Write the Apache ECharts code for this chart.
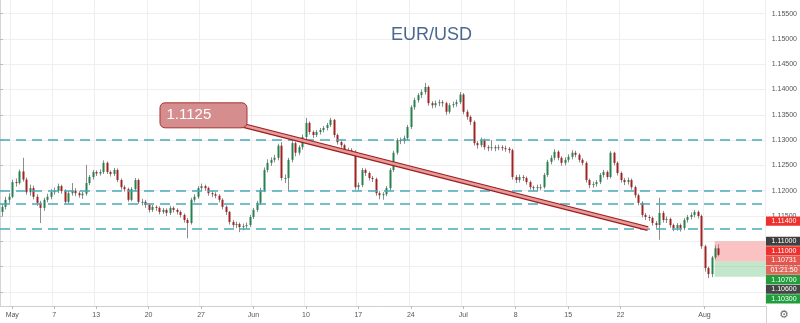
<!DOCTYPE html>
<html>
<head>
<meta charset="utf-8">
<script src="https://cdn.jsdelivr.net/npm/echarts@6/dist/echarts.min.js"></script>
<style>
  html, body { margin: 0; padding: 0; background: #ffffff; }
  #chart { width: 800px; height: 323px; }
</style>
</head>
<body>
<div id="chart"></div>
<script>
// EUR/USD, 8-hour bars, 30 Apr - 2 Aug 2019
const tradingDays = [
  '04-30',
  '05-01','05-02','05-03','05-06','05-07','05-08','05-09','05-10','05-13','05-14','05-15','05-16','05-17',
  '05-20','05-21','05-22','05-23','05-24','05-27','05-28','05-29','05-30','05-31',
  '06-03','06-04','06-05','06-06','06-07','06-10','06-11','06-12','06-13','06-14',
  '06-17','06-18','06-19','06-20','06-21','06-24','06-25','06-26','06-27','06-28',
  '07-01','07-02','07-03','07-04','07-05','07-08','07-09','07-10','07-11','07-12',
  '07-15','07-16','07-17','07-18','07-19','07-22','07-23','07-24','07-25','07-26',
  '07-29','07-30','07-31',
  '08-01','08-02'
];
const barHours = ['00:00', '08:00', '16:00'];
const futureBars = 12;

const tickDates  = ['05-01','05-07','05-13','05-20','05-27','06-03','06-10','06-17','06-24','07-01','07-08','07-15','07-22','08-01'];
const tickLabels = ['May','7','13','20','27','Jun','10','17','24','Jul','8','15','22','Aug'];

// [open, close, low, high]
const candles = [
  [1.1158,1.1168,1.1150,1.1174],[1.1168,1.1182,1.1163,1.1188],[1.1182,1.1188,1.1176,1.1195],[1.1188,1.1217,1.1185,1.1222],
  [1.1217,1.1215,1.1208,1.1224],[1.1215,1.1238,1.1212,1.1242],[1.1238,1.1222,1.1218,1.1265],[1.1222,1.1197,1.1192,1.1226],
  [1.1197,1.1205,1.1190,1.1212],[1.1205,1.1188,1.1183,1.1210],[1.1188,1.1176,1.1170,1.1193],[1.1176,1.1166,1.1136,1.1180],
  [1.1166,1.1182,1.1160,1.1186],[1.1182,1.1188,1.1177,1.1194],[1.1188,1.1197,1.1183,1.1203],[1.1197,1.1200,1.1192,1.1206],
  [1.1200,1.1209,1.1195,1.1214],[1.1209,1.1199,1.1194,1.1212],[1.1199,1.1178,1.1174,1.1203],[1.1178,1.1195,1.1175,1.1199],
  [1.1195,1.1200,1.1190,1.1215],[1.1200,1.1195,1.1189,1.1205],[1.1195,1.1191,1.1186,1.1199],[1.1191,1.1194,1.1184,1.1198],
  [1.1194,1.1215,1.1190,1.1251],[1.1215,1.1227,1.1211,1.1231],[1.1227,1.1237,1.1222,1.1241],[1.1237,1.1234,1.1229,1.1240],
  [1.1234,1.1237,1.1230,1.1242],[1.1237,1.1255,1.1233,1.1260],[1.1255,1.1237,1.1233,1.1258],[1.1237,1.1233,1.1228,1.1240],
  [1.1233,1.1241,1.1229,1.1245],[1.1241,1.1221,1.1217,1.1244],[1.1221,1.1207,1.1202,1.1224],[1.1207,1.1203,1.1198,1.1211],
  [1.1203,1.1182,1.1178,1.1206],[1.1182,1.1203,1.1179,1.1207],[1.1203,1.1221,1.1199,1.1225],[1.1221,1.1178,1.1174,1.1224],
  [1.1178,1.1178,1.1171,1.1184],[1.1178,1.1172,1.1166,1.1182],[1.1172,1.1162,1.1157,1.1175],[1.1162,1.1168,1.1158,1.1172],
  [1.1168,1.1166,1.1160,1.1171],[1.1166,1.1158,1.1153,1.1169],[1.1158,1.1162,1.1154,1.1166],[1.1162,1.1156,1.1150,1.1165],
  [1.1156,1.1166,1.1152,1.1170],[1.1166,1.1162,1.1157,1.1169],[1.1162,1.1158,1.1153,1.1165],[1.1158,1.1152,1.1147,1.1161],
  [1.1152,1.1142,1.1137,1.1155],[1.1142,1.1136,1.1106,1.1146],[1.1136,1.1182,1.1133,1.1186],[1.1182,1.1188,1.1177,1.1193],
  [1.1188,1.1205,1.1184,1.1209],[1.1205,1.1209,1.1200,1.1214],[1.1209,1.1205,1.1200,1.1212],[1.1205,1.1195,1.1190,1.1208],
  [1.1195,1.1193,1.1187,1.1199],[1.1193,1.1190,1.1185,1.1197],[1.1190,1.1182,1.1177,1.1193],[1.1182,1.1168,1.1163,1.1185],
  [1.1168,1.1158,1.1152,1.1171],[1.1158,1.1138,1.1133,1.1160],[1.1138,1.1132,1.1127,1.1142],[1.1132,1.1134,1.1126,1.1139],
  [1.1134,1.1128,1.1118,1.1137],[1.1128,1.1130,1.1122,1.1135],[1.1130,1.1132,1.1125,1.1137],[1.1132,1.1148,1.1128,1.1152],
  [1.1148,1.1162,1.1144,1.1166],[1.1162,1.1176,1.1158,1.1180],[1.1176,1.1201,1.1172,1.1206],[1.1201,1.1241,1.1197,1.1246],
  [1.1241,1.1255,1.1236,1.1262],[1.1255,1.1261,1.1249,1.1266],[1.1261,1.1265,1.1256,1.1271],[1.1265,1.1289,1.1260,1.1293],
  [1.1289,1.1225,1.1220,1.1296],[1.1225,1.1225,1.1215,1.1232],[1.1225,1.1261,1.1200,1.1265],[1.1261,1.1294,1.1256,1.1298],
  [1.1294,1.1275,1.1268,1.1297],[1.1275,1.1286,1.1270,1.1290],[1.1286,1.1306,1.1281,1.1311],[1.1306,1.1334,1.1300,1.1344],
  [1.1334,1.1316,1.1311,1.1337],[1.1316,1.1310,1.1304,1.1319],[1.1310,1.1316,1.1306,1.1320],[1.1316,1.1320,1.1311,1.1324],
  [1.1320,1.1324,1.1315,1.1328],[1.1324,1.1330,1.1319,1.1334],[1.1330,1.1340,1.1326,1.1344],[1.1340,1.1310,1.1305,1.1342],
  [1.1310,1.1296,1.1291,1.1313],[1.1296,1.1290,1.1285,1.1300],[1.1290,1.1280,1.1275,1.1293],[1.1280,1.1280,1.1274,1.1285],
  [1.1280,1.1277,1.1271,1.1284],[1.1277,1.1207,1.1202,1.1280],[1.1207,1.1211,1.1201,1.1216],[1.1211,1.1241,1.1207,1.1245],
  [1.1241,1.1235,1.1229,1.1244],[1.1235,1.1225,1.1220,1.1238],[1.1225,1.1223,1.1217,1.1229],[1.1223,1.1195,1.1190,1.1226],
  [1.1195,1.1191,1.1183,1.1199],[1.1191,1.1193,1.1182,1.1197],[1.1193,1.1205,1.1189,1.1209],[1.1205,1.1241,1.1201,1.1245],
  [1.1241,1.1275,1.1237,1.1279],[1.1275,1.1300,1.1271,1.1304],[1.1300,1.1298,1.1292,1.1305],[1.1298,1.1304,1.1293,1.1309],
  [1.1304,1.1326,1.1300,1.1330],[1.1326,1.1365,1.1322,1.1369],[1.1365,1.1379,1.1360,1.1384],[1.1379,1.1389,1.1374,1.1393],
  [1.1389,1.1395,1.1383,1.1400],[1.1395,1.1405,1.1390,1.1413],[1.1405,1.1373,1.1368,1.1408],[1.1373,1.1369,1.1363,1.1377],
  [1.1369,1.1373,1.1364,1.1378],[1.1373,1.1375,1.1367,1.1380],[1.1375,1.1373,1.1366,1.1379],[1.1373,1.1356,1.1350,1.1376],
  [1.1356,1.1369,1.1352,1.1373],[1.1369,1.1371,1.1364,1.1376],[1.1371,1.1375,1.1366,1.1380],[1.1375,1.1390,1.1371,1.1395],
  [1.1390,1.1356,1.1351,1.1393],[1.1356,1.1346,1.1340,1.1360],[1.1346,1.1336,1.1330,1.1349],[1.1336,1.1294,1.1289,1.1339],
  [1.1294,1.1290,1.1283,1.1298],[1.1290,1.1300,1.1286,1.1305],[1.1300,1.1286,1.1281,1.1303],[1.1286,1.1284,1.1278,1.1290],
  [1.1284,1.1286,1.1279,1.1300],[1.1286,1.1284,1.1278,1.1290],[1.1284,1.1286,1.1280,1.1291],[1.1286,1.1284,1.1279,1.1290],
  [1.1284,1.1283,1.1277,1.1289],[1.1283,1.1280,1.1274,1.1286],[1.1280,1.1227,1.1222,1.1283],[1.1227,1.1221,1.1215,1.1231],
  [1.1221,1.1227,1.1216,1.1232],[1.1227,1.1225,1.1219,1.1231],[1.1225,1.1217,1.1212,1.1228],[1.1217,1.1207,1.1202,1.1220],
  [1.1207,1.1205,1.1199,1.1210],[1.1205,1.1207,1.1200,1.1212],[1.1207,1.1207,1.1201,1.1213],[1.1207,1.1231,1.1204,1.1235],
  [1.1231,1.1257,1.1227,1.1261],[1.1257,1.1265,1.1252,1.1270],[1.1265,1.1277,1.1260,1.1282],[1.1277,1.1265,1.1260,1.1280],
  [1.1265,1.1255,1.1249,1.1268],[1.1255,1.1261,1.1250,1.1266],[1.1261,1.1267,1.1256,1.1272],[1.1267,1.1275,1.1262,1.1280],
  [1.1275,1.1271,1.1266,1.1279],[1.1271,1.1261,1.1256,1.1274],[1.1261,1.1255,1.1250,1.1264],[1.1255,1.1221,1.1216,1.1258],
  [1.1221,1.1211,1.1205,1.1224],[1.1211,1.1213,1.1206,1.1218],[1.1213,1.1217,1.1208,1.1221],[1.1217,1.1231,1.1213,1.1235],
  [1.1231,1.1237,1.1226,1.1241],[1.1237,1.1227,1.1222,1.1240],[1.1227,1.1275,1.1224,1.1278],[1.1275,1.1255,1.1250,1.1277],
  [1.1255,1.1235,1.1230,1.1258],[1.1235,1.1221,1.1216,1.1238],[1.1221,1.1217,1.1211,1.1225],[1.1217,1.1221,1.1212,1.1226],
  [1.1221,1.1207,1.1202,1.1224],[1.1207,1.1191,1.1186,1.1210],[1.1191,1.1176,1.1171,1.1194],[1.1176,1.1152,1.1147,1.1179],
  [1.1152,1.1148,1.1142,1.1156],[1.1148,1.1146,1.1140,1.1152],[1.1146,1.1136,1.1131,1.1149],[1.1136,1.1132,1.1126,1.1140],
  [1.1132,1.1156,1.1103,1.1186],[1.1156,1.1142,1.1137,1.1160],[1.1142,1.1144,1.1136,1.1149],[1.1144,1.1132,1.1127,1.1147],
  [1.1132,1.1126,1.1120,1.1135],[1.1126,1.1132,1.1121,1.1136],[1.1132,1.1126,1.1119,1.1135],[1.1126,1.1142,1.1122,1.1146],
  [1.1142,1.1148,1.1137,1.1152],[1.1148,1.1152,1.1143,1.1157],[1.1152,1.1158,1.1147,1.1162],[1.1158,1.1150,1.1145,1.1161],
  [1.1150,1.1090,1.1085,1.1153],[1.1090,1.1047,1.1040,1.1093],[1.1047,1.1035,1.1027,1.1050],[1.1035,1.1068,1.1029,1.1071],
  [1.1068,1.1086,1.1064,1.1092],[1.1086,1.10731,1.1070,1.1094]
];

// horizontal support / resistance levels
const guideLevels = [1.1300, 1.1200, 1.1175, 1.1125];
const priceTicks = [1.100, 1.105, 1.110, 1.115, 1.120, 1.125, 1.130, 1.135, 1.140, 1.145, 1.150, 1.155];
const priceMin = 1.0972;
const priceMax = 1.1577;

// trend line annotation (bar position, price)
const calloutText = '1.1125';
const calloutPoint = [58.2, 1.1349];
const trendEndPoint = [185.3, 1.1125];

// short position tool
const positionStartBar = 204.4;
const stopLevel = 1.1100;
const entryLevel = 1.1060;
const targetLevel = 1.1030;

// price scale badges
const badgeTexts  = ['1.11400', '1.11000', '1.11000', '1.10731', '01:21:50', '1.10700', '1.10600', '1.10300'];
const badgeLevels = [1.11400, 1.11000, 1.11000, 1.10731, 1.10731, 1.10700, 1.10600, 1.10300];
const badgeColors = ['#f0302c', '#3f3f3f', '#f0302c', '#e5544d', '#e0675e', '#1f9e3b', '#454545', '#1f9e3b'];

const UP = '#26804f';
const DOWN = '#a02222';
const WICK = '#8c8c8c';
const FONT = 'Liberation Sans, Arial, sans-serif';

const categories = [];
tradingDays.forEach(d => barHours.forEach(h => categories.push(d + ' ' + h)));
for (let k = 1; k <= futureBars; k++) categories.push('next ' + k);
const totalBars = categories.length;

const tickMap = {};
tickDates.forEach((d, i) => { tickMap[d + ' ' + barHours[0]] = tickLabels[i]; });
const isTick = (idx, value) => tickMap[value] !== undefined;

const candleData = candles.map((c, i) => [i, c[0], c[1], c[2], c[3]]);

function renderCandle(params, api) {
  const i = api.value(0);
  const o = api.value(1), c = api.value(2), l = api.value(3), h = api.value(4);
  const pO = api.coord([i, o]);
  const pC = api.coord([i, c]);
  const pL = api.coord([i, l]);
  const pH = api.coord([i, h]);
  const w = Math.max(1, Math.round(api.size([1, 0])[0] * 0.62));
  const x = Math.round(pO[0]);
  const top = Math.min(pO[1], pC[1]);
  const bh = Math.max(1, Math.abs(pO[1] - pC[1]));
  return {
    type: 'group',
    children: [
      { type: 'line', shape: { x1: x + 0.5, y1: pH[1], x2: x + 0.5, y2: pL[1] },
        style: { stroke: WICK, lineWidth: 1 } },
      { type: 'rect', shape: { x: x + 0.5 - w / 2, y: top, width: w, height: bh },
        style: { fill: c >= o ? UP : DOWN } }
    ]
  };
}

const chart = echarts.init(document.getElementById('chart'), null, { renderer: 'canvas' });

chart.setOption({
  animation: false,
  backgroundColor: '#ffffff',
  title: {
    text: 'EUR/USD',
    left: 386, top: 21,
    textStyle: { fontFamily: FONT, fontSize: 18, fontWeight: 'normal', color: '#4a6891' }
  },
  grid: { left: 0, right: 34, top: 0, bottom: 17, containLabel: false },
  xAxis: [
    {
      type: 'category',
      data: categories,
      boundaryGap: true,
      axisLine: { show: true, lineStyle: { color: '#cfcfcf' } },
      axisTick: { show: true, interval: isTick, alignWithLabel: true, length: 3, lineStyle: { color: '#bbbbbb' } },
      axisLabel: {
        interval: isTick,
        formatter: v => tickMap[v] || '',
        fontFamily: FONT, fontSize: 7, color: '#555555', margin: 6
      },
      splitLine: { show: true, interval: isTick, lineStyle: { color: '#efefef', width: 1 } }
    },
    { type: 'value', min: 0, max: totalBars, show: false }
  ],
  yAxis: {
    type: 'value',
    position: 'right',
    min: priceMin,
    max: priceMax,
    axisLine: { show: true, lineStyle: { color: '#d4d4d4' } },
    axisTick: { show: true, length: 3, customValues: priceTicks, lineStyle: { color: '#bbbbbb' } },
    axisLabel: {
      customValues: priceTicks,
      formatter: v => v.toFixed(5),
      fontFamily: FONT, fontSize: 7, color: '#555555', margin: 6
    },
    splitLine: { show: true, lineStyle: { color: '#efefef', width: 1 } }
  },
  series: [
    {
      // position box: risk above entry, reward below
      type: 'line',
      xAxisIndex: 1,
      data: [],
      z: 1,
      markArea: {
        silent: true,
        data: [
          [{ xAxis: positionStartBar, yAxis: stopLevel, itemStyle: { color: 'rgba(242, 110, 110, 0.42)' } },
           { xAxis: totalBars, yAxis: entryLevel }],
          [{ xAxis: positionStartBar, yAxis: entryLevel, itemStyle: { color: 'rgba(80, 185, 100, 0.34)' } },
           { xAxis: totalBars, yAxis: targetLevel }]
        ]
      }
    },
    {
      type: 'custom',
      name: 'EUR/USD',
      renderItem: renderCandle,
      data: candleData,
      encode: { x: 0, y: [1, 2, 3, 4] },
      z: 3,
      markLine: {
        silent: true,
        symbol: 'none',
        precision: 5,
        label: { show: false },
        lineStyle: { color: '#4aaab9', width: 1.5, type: [10, 6] },
        data: guideLevels.map(v => ({ yAxis: v }))
      }
    },
    {
      type: 'line',
      xAxisIndex: 1,
      data: [calloutPoint, trendEndPoint],
      showSymbol: false,
      z: 5,
      lineStyle: { color: '#a11d1d', width: 5 }
    },
    {
      type: 'line',
      xAxisIndex: 1,
      data: [calloutPoint, trendEndPoint],
      showSymbol: false,
      z: 6,
      lineStyle: { color: '#e39b9b', width: 2.6 }
    }
  ]
});

function drawOverlay() {
  const g = [];
  const [cx, cy] = chart.convertToPixel({ xAxisIndex: 1, yAxisIndex: 0 }, calloutPoint);
  g.push({
    type: 'rect', z: 100,
    shape: { x: cx - 43.5, y: cy - 12.5, width: 87, height: 25, r: 5 },
    style: { fill: '#d68d8d', stroke: '#a33535', lineWidth: 1 }
  });
  g.push({
    type: 'text', z: 101, x: cx - 37, y: cy,
    style: { text: calloutText, fill: '#ffffff', font: '15px ' + FONT, align: 'left', verticalAlign: 'middle' }
  });

  // price badges stacked on the scale
  const gridRight = 766;
  let prevY = -Infinity;
  badgeLevels.forEach((lvl, i) => {
    let y = chart.convertToPixel({ yAxisIndex: 0 }, lvl);
    y = Math.max(y, prevY + 9.6);
    prevY = y;
    g.push({
      type: 'rect', z: 110,
      shape: { x: gridRight, y: y - 4.6, width: 34, height: 9.2 },
      style: { fill: badgeColors[i] }
    });
    g.push({
      type: 'text', z: 111, x: gridRight + 18, y: y,
      style: { text: badgeTexts[i], fill: '#ffffff', font: '7px ' + FONT, align: 'center', verticalAlign: 'middle' }
    });
  });

  g.push({
    type: 'line', z: 90,
    shape: { x1: gridRight + 0.5, y1: 306, x2: gridRight + 0.5, y2: 323 },
    style: { stroke: '#d4d4d4', lineWidth: 1 }
  });
  g.push({
    type: 'text', z: 111, x: 784, y: 315,
    style: { text: '\u2699', fill: '#666666', font: '11px DejaVu Sans', align: 'center', verticalAlign: 'middle' }
  });
  chart.setOption({ graphic: g });
}
drawOverlay();
</script>
</body>
</html>
